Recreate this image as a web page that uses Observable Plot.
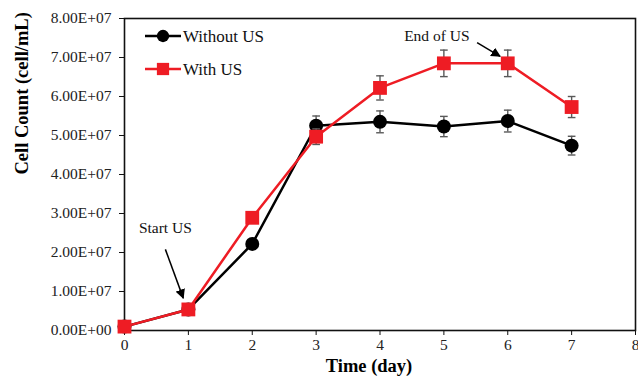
<!DOCTYPE html>
<html>
<head>
<meta charset="utf-8">
<script src="https://cdn.jsdelivr.net/npm/d3@7"></script>
<script src="https://cdn.jsdelivr.net/npm/@observablehq/plot@0.6"></script>
<style>
  body { margin: 0; background: #fff; }
  #chart { position: relative; width: 638px; height: 378px; }
  #legend { position: absolute; left: 0; top: 0; pointer-events: none; }
</style>
</head>
<body>
<div id="chart"></div>
<script>
// Culture time (day) and measured cell counts (cell/mL)
const days = [0, 1, 2, 3, 4, 5, 6, 7];
const withoutUS = [1.0e6, 5.4e6, 2.22e7, 5.25e7, 5.35e7, 5.23e7, 5.37e7, 4.74e7];
const withoutUSErr = [0, 0, 0, 2.5e6, 2.8e6, 2.6e6, 2.8e6, 2.4e6];
const withUS = [1.0e6, 5.4e6, 2.89e7, 4.97e7, 6.22e7, 6.85e7, 6.85e7, 5.73e7];
const withUSErr = [0, 0, 0, 2.0e6, 3.1e6, 3.4e6, 3.4e6, 2.7e6];

const seriesNames = ["Without US", "With US"];
const seriesColors = ["#000000", "#ee1c24"];
const seriesSymbols = ["circle", "square"];

const xTicks = [0, 1, 2, 3, 4, 5, 6, 7, 8];
const yTicks = [0, 1e7, 2e7, 3e7, 4e7, 5e7, 6e7, 7e7, 8e7];

// Annotations: label position and arrow from/to, in data units
const notes = [
  {text: "Start US", tx: 0.64, ty: 2.62e7, x1: 0.64, y1: 2.08e7, x2: 0.92, y2: 0.83e7},
  {text: "End of US", tx: 4.89, ty: 7.56e7, x1: 5.52, y1: 7.38e7, x2: 5.88, y2: 7.03e7}
];

const rows = (vals, errs, s) => days.map((d, i) => ({day: d, value: vals[i], err: errs[i], series: s}));
const data0 = rows(withoutUS, withoutUSErr, 0);
const data1 = rows(withUS, withUSErr, 1);

// Scientific tick format like 8.00E+07
function sci(v) {
  if (v === 0) return "0.00E+00";
  const e = Math.floor(Math.log10(Math.abs(v)));
  const m = v / Math.pow(10, e);
  return m.toFixed(2) + "E" + (e < 0 ? "-" : "+") + String(Math.abs(e)).padStart(2, "0");
}

const errMarks = (data) => {
  const withErr = data.filter(d => d.err > 0);
  const style = {stroke: "#595959", strokeWidth: 1.4};
  return [
    Plot.ruleX(withErr, {x: "day", y1: d => d.value - d.err, y2: d => d.value + d.err, ...style}),
    Plot.link(withErr, {x1: d => d.day - 0.06, x2: d => d.day + 0.06, y1: d => d.value + d.err, y2: d => d.value + d.err, ...style}),
    Plot.link(withErr, {x1: d => d.day - 0.06, x2: d => d.day + 0.06, y1: d => d.value - d.err, y2: d => d.value - d.err, ...style})
  ];
};

const font = "'Liberation Serif', 'Times New Roman', serif";

const chart = Plot.plot({
  width: 638,
  height: 378,
  marginLeft: 124,
  marginRight: 3,
  marginTop: 18,
  marginBottom: 48,
  style: {fontFamily: font, fontSize: "15.5px", color: "#222", background: "#fff"},
  x: {domain: [0, 8]},
  y: {domain: [0, 8e7]},
  marks: [
    Plot.axisX({ticks: xTicks, tickSize: 5, tickPadding: 3, label: null, stroke: "#111", fontSize: 15.5}),
    Plot.axisY({ticks: yTicks, tickFormat: sci, tickSize: 5, tickPadding: 8, label: null, stroke: "#111", fontSize: 15.5}),
    Plot.frame({stroke: "#111", strokeWidth: 1.6}),
    // Without US
    Plot.line(data0, {x: "day", y: "value", stroke: seriesColors[0], strokeWidth: 2.5}),
    ...errMarks(data0),
    Plot.dot(data0, {x: "day", y: "value", r: 7, symbol: seriesSymbols[0], fill: seriesColors[0], stroke: "none"}),
    // With US
    Plot.line(data1, {x: "day", y: "value", stroke: seriesColors[1], strokeWidth: 2.5}),
    ...errMarks(data1),
    Plot.dot(data1, {x: "day", y: "value", r: 7.8, symbol: seriesSymbols[1], fill: seriesColors[1], stroke: "none"}),
    // Annotations
    Plot.link(notes, {x1: "x1", y1: "y1", x2: "x2", y2: "y2", stroke: "#000", strokeWidth: 1.5}),
    Plot.text(notes, {x: "tx", y: "ty", text: "text", fontSize: 15.5, fill: "#111"}),
    // Axis titles
    Plot.text(["Time (day)"], {frameAnchor: "bottom", lineAnchor: "middle", dy: 36, dx: -11, fontSize: 18.5, fontWeight: "bold", fill: "#000"}),
    Plot.text(["Cell Count (cell/mL)"], {frameAnchor: "left", dx: -102, rotate: -90, fontSize: 18.5, fontWeight: "bold", fill: "#000"})
  ]
});

const svg = d3.select(chart);

// Tick label typography
svg.selectAll("g[aria-label*='axis'] text")
  .style("font-size", "15.5px")
  .style("font-family", font)
  .attr("fill", "#222");

// Filled arrowheads on the annotation links
svg.insert("defs", ":first-child")
  .append("marker")
  .attr("id", "arrowhead")
  .attr("viewBox", "0 0 10 10")
  .attr("refX", 9).attr("refY", 5)
  .attr("markerWidth", 6.5).attr("markerHeight", 6.5)
  .attr("markerUnits", "strokeWidth")
  .attr("orient", "auto")
  .append("path").attr("d", "M0,0L10,5L0,10Z").attr("fill", "#000");
const linkGroups = svg.selectAll("g[aria-label='link']").nodes();
d3.select(linkGroups[linkGroups.length - 1]).selectAll("path").attr("marker-end", "url(#arrowhead)");

const root = document.getElementById("chart");
root.appendChild(chart);

// Legend, upper left inside the plot frame
const legend = d3.select(root).append("svg")
  .attr("id", "legend").attr("width", 300).attr("height", 100);
const item = legend.selectAll("g").data(seriesNames).join("g")
  .attr("transform", (d, i) => `translate(145, ${36 + i * 33})`);
item.append("line").attr("x1", 0).attr("x2", 36).attr("y1", 0).attr("y2", 0)
  .attr("stroke", (d, i) => seriesColors[i]).attr("stroke-width", 2.5);
item.append("path")
  .attr("transform", "translate(18,0)")
  .attr("d", (d, i) => d3.symbol(i === 0 ? d3.symbolCircle : d3.symbolSquare, i === 0 ? 120 : 150)())
  .attr("fill", (d, i) => seriesColors[i]);
item.append("text").attr("x", 38).attr("y", 0).attr("dy", "0.35em")
  .attr("font-family", font).attr("font-size", 17).attr("fill", "#111")
  .text(d => d);
</script>
</body>
</html>
